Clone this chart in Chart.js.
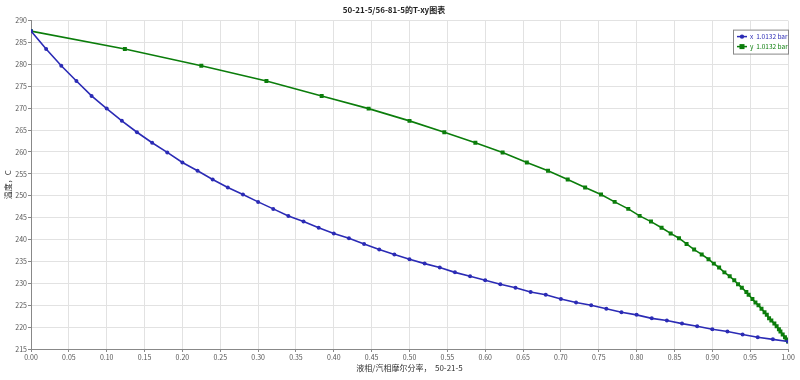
<!DOCTYPE html>
<html lang="zh">
<head>
<meta charset="UTF-8">
<title>T-xy</title>
<script src="https://cdn.jsdelivr.net/npm/chart.js"></script>
<style>
  html, body { margin: 0; padding: 0; background: #fff; }
  #wrap { width: 800px; height: 380px; }
</style>
</head>
<body>
<div id="wrap"><canvas id="txy" width="800" height="380"></canvas></div>
<script>
// liquid mole fraction (x), vapour mole fraction (y), temperature in C
const liquidX = [0.00, 0.02, 0.04, 0.06, 0.08, 0.10, 0.12, 0.14, 0.16, 0.18, 0.20, 0.22, 0.24, 0.26, 0.28, 0.30,
  0.32, 0.34, 0.36, 0.38, 0.40, 0.42, 0.44, 0.46, 0.48, 0.50, 0.52, 0.54, 0.56, 0.58, 0.60, 0.62, 0.64, 0.66,
  0.68, 0.70, 0.72, 0.74, 0.76, 0.78, 0.80, 0.82, 0.84, 0.86, 0.88, 0.90, 0.92, 0.94, 0.96, 0.98, 1.00];
const vapourY = [0.000, 0.124, 0.225, 0.311, 0.384, 0.446, 0.500, 0.546, 0.587, 0.623, 0.655, 0.683, 0.709, 0.732,
  0.753, 0.771, 0.789, 0.804, 0.819, 0.833, 0.845, 0.856, 0.866, 0.876, 0.886, 0.895, 0.902, 0.909, 0.916, 0.923,
  0.929, 0.934, 0.939, 0.945, 0.948, 0.953, 0.957, 0.961, 0.965, 0.969, 0.972, 0.975, 0.978, 0.982, 0.985, 0.988,
  0.990, 0.993, 0.996, 0.998, 1.000];
const tempC = [287.6, 283.5, 279.7, 276.2, 272.8, 269.9, 267.1, 264.5, 262.1, 259.9, 257.6, 255.7, 253.7, 251.9,
  250.3, 248.6, 247.0, 245.4, 244.1, 242.7, 241.4, 240.3, 239.0, 237.7, 236.6, 235.5, 234.5, 233.6, 232.5, 231.6,
  230.7, 229.8, 229.0, 228.0, 227.4, 226.4, 225.6, 225.0, 224.2, 223.4, 222.8, 222.0, 221.5, 220.8, 220.2, 219.5,
  219.0, 218.3, 217.7, 217.2, 216.7];
const seriesNames = ['x  1.0132 bar', 'y  1.0132 bar'];
const seriesColors = ['#2b2bb5', '#0b7d0b'];

const FONT = '"Noto Sans CJK SC", "Noto Sans", sans-serif';

// legend drawn as a small framed box inside the plot, top right
const insideLegend = {
  id: 'insideLegend',
  afterDraw(chart) {
    const ctx = chart.ctx;
    const a = chart.chartArea;
    const w = 55, h = 24;
    const x0 = a.right - w, y0 = a.top + 9;
    ctx.save();
    ctx.fillStyle = '#fff';
    ctx.fillRect(x0, y0, w, h);
    ctx.strokeStyle = '#888';
    ctx.lineWidth = 1;
    ctx.strokeRect(x0 + 0.5, y0 + 0.5, w, h);
    ctx.font = '6.5px ' + FONT;
    ctx.textBaseline = 'middle';
    seriesNames.forEach((name, i) => {
      const cy = y0 + 7 + i * 10;
      ctx.strokeStyle = seriesColors[i];
      ctx.fillStyle = seriesColors[i];
      ctx.lineWidth = 1.5;
      ctx.beginPath();
      ctx.moveTo(x0 + 4, cy);
      ctx.lineTo(x0 + 14, cy);
      ctx.stroke();
      if (i === 0) {
        ctx.beginPath();
        ctx.arc(x0 + 9, cy, 2.2, 0, Math.PI * 2);
        ctx.fill();
      } else {
        ctx.fillRect(x0 + 6.5, cy - 2.5, 5, 5);
      }
      ctx.fillText(name, x0 + 17, cy);
    });
    ctx.restore();
  }
};

const liquidPts = liquidX.map((v, i) => ({ x: v, y: tempC[i] }));
const vapourPts = vapourY.map((v, i) => ({ x: v, y: tempC[i] }));

new Chart(document.getElementById('txy'), {
  type: 'scatter',
  data: {
    datasets: [
      {
        label: seriesNames[0],
        data: liquidPts,
        showLine: true,
        borderColor: seriesColors[0],
        backgroundColor: seriesColors[0],
        borderWidth: 1.6,
        pointStyle: 'circle',
        pointRadius: 2,
        pointBorderWidth: 0
      },
      {
        label: seriesNames[1],
        data: vapourPts,
        showLine: true,
        borderColor: seriesColors[1],
        backgroundColor: seriesColors[1],
        borderWidth: 1.6,
        pointStyle: 'rect',
        pointRadius: 2.8,
        pointBorderWidth: 0
      }
    ]
  },
  options: {
    responsive: false,
    animation: false,
    layout: { padding: { top: 0, right: 12, left: 0, bottom: 0 } },
    plugins: {
      legend: { display: false },
      tooltip: { enabled: false },
      title: {
        display: true,
        text: '50-21-5/56-81-5的T-xy图表',
        color: '#222',
        font: { family: FONT, size: 8, weight: 'bold' },
        padding: { top: 5, bottom: 6 }
      }
    },
    scales: {
      x: {
        type: 'linear',
        min: 0, max: 1,
        ticks: {
          stepSize: 0.05,
          color: '#555',
          font: { family: FONT, size: 7 },
          padding: 1,
          maxRotation: 0,
          autoSkip: false,
          callback: v => v.toFixed(2)
        },
        grid: { color: '#e2e2e2', tickLength: 3, tickColor: '#888' },
        border: { color: '#888' },
        title: {
          display: true,
          text: '液相/汽相摩尔分率，  50-21-5',
          color: '#333',
          font: { family: FONT, size: 8 },
          padding: { top: 1, bottom: 7 }
        },
        afterFit: s => { s.height = 31; }
      },
      y: {
        min: 215, max: 290,
        ticks: {
          stepSize: 5,
          color: '#555',
          font: { family: FONT, size: 7 },
          padding: 1
        },
        grid: { color: '#e2e2e2', tickLength: 3, tickColor: '#888' },
        border: { color: '#888' },
        title: {
          display: true,
          text: '温度，C',
          color: '#333',
          font: { family: FONT, size: 8 },
          padding: { top: 3, bottom: 1 }
        },
        afterFit: s => { s.width = 31; }
      }
    }
  },
  plugins: [insideLegend]
});
</script>
</body>
</html>
